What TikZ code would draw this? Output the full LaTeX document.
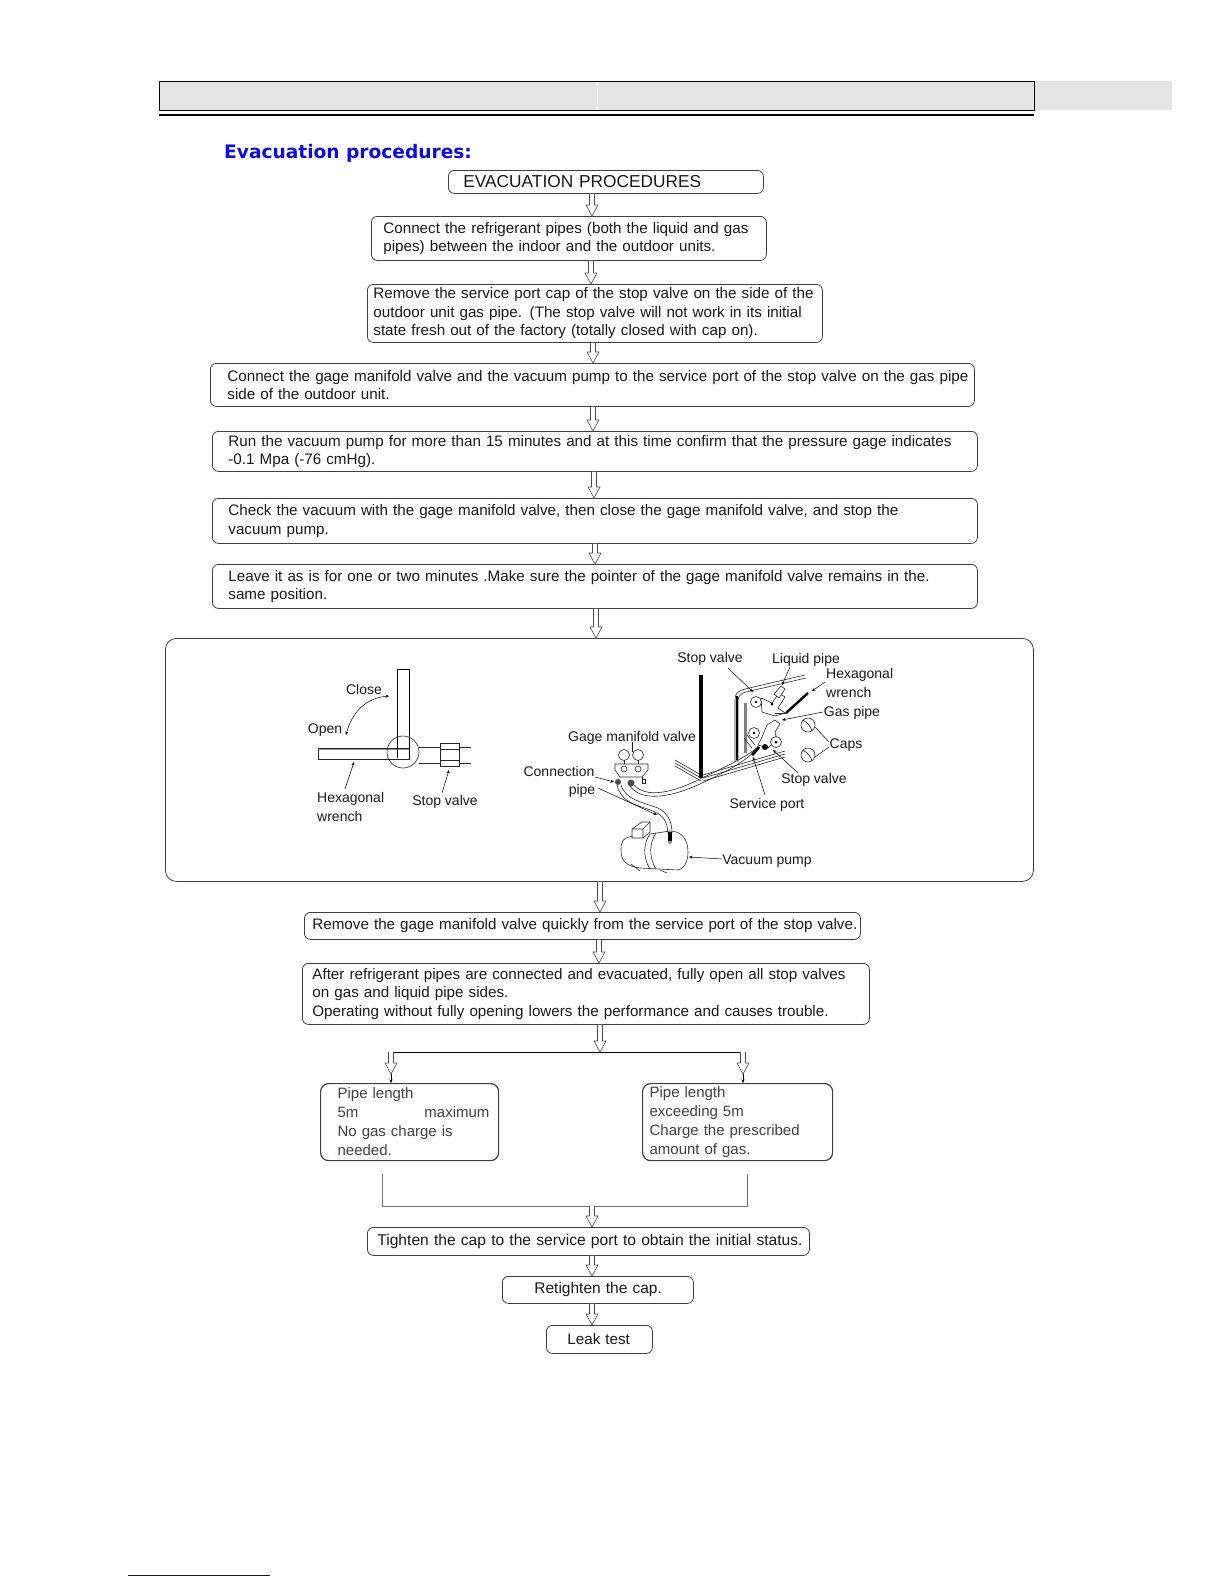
\documentclass[tikz,border=0pt]{standalone}
\usepackage{fontspec}
\setmainfont{Liberation Sans}
\newfontfamily\headfont{DejaVu Sans}
\usepackage{xcolor}
\usetikzlibrary{positioning,arrows.meta,calc}
\definecolor{headgray}{RGB}{229,229,229}

\begin{document}
\begin{tikzpicture}[
  x=1pt, y=-1pt,
  >=Stealth,
  stepbox/.style={draw=black!75, line width=0.8pt, rounded corners=6pt, anchor=north west, inner xsep=0pt, inner ysep=0pt, align=left, text=black!90, font=\fontsize{15.2}{18.4}\selectfont},
  pad/.style={execute at begin node={\leftskip=#1pt\relax}},
  lenbox/.style={stepbox, line width=1.2pt, rounded corners=8pt, font=\fontsize{15}{19}\selectfont, text=black!75},
  lbl/.style={inner sep=0pt, text=black!90, font=\fontsize{14}{19}\selectfont},
  hol/.style={draw=black!70, line width=0.6pt, fill=white, to path={let \p1=(\tikztostart), \p2=(\tikztotarget) in (\x1-2.5pt,\y1) -- (\x1-2.5pt,\y2+11pt) -- (\x1-6pt,\y2+11pt) -- (\x1,\y2) -- (\x1+6pt,\y2+11pt) -- (\x1+2.5pt,\y2+11pt) -- (\x1+2.5pt,\y1)}},
  lead/.style={->, line width=0.5pt, >={Stealth[length=3.5pt, width=3pt]}},
  thin1/.style={line width=0.6pt, black!85}
]
  \useasboundingbox (0,0) rectangle (1225,1585);
  % page head
  \fill[headgray] (159,81) rectangle (1172,110);
  \draw[white, line width=1pt] (597,81) -- (597,110);
  \draw[line width=0.9pt] (159,81) rectangle (1034,110);
  \draw[line width=1.4pt] (159,115) -- (1034,115);
  \node[anchor=west, inner sep=0pt, text={rgb,255:red,10;green,10;blue,235}, font=\headfont\bfseries\fontsize{18.6}{22}\selectfont] (head) at (224,153) {Evacuation procedures:};
  \draw[blue!85!black, line width=1pt] (128,1575) -- (270,1575);

  % flow boxes
  \node[stepbox, pad=15, text width=315pt, minimum height=23pt, font=\fontsize{17.3}{20}\selectfont] (title) at (448,170) {EVACUATION PROCEDURES};
  \node[stepbox, pad=12, text width=395pt, minimum height=44pt] (pipes) at (371,216) {Connect the refrigerant pipes (both the liquid and gas\\pipes) between the indoor and the outdoor units.};
  \node[stepbox, pad=6, text width=455pt, minimum height=58pt] (cap) at (367,284) {Remove the service port cap of the stop valve on the side of the\\outdoor unit gas pipe. (The stop valve will not work in its initial\\state fresh out of the factory (totally closed with cap on).};
  \node[stepbox, pad=17, text width=764pt, minimum height=43pt] (gage) at (210,363) {Connect the gage manifold valve and the vacuum pump to the service port of the stop valve on the gas pipe\\side of the outdoor unit.};
  \node[stepbox, pad=16, text width=765pt, minimum height=40pt] (run) at (212,431) {Run the vacuum pump for more than 15 minutes and at this time confirm that the pressure gage indicates\\-0.1 Mpa (-76 cmHg).};
  \node[stepbox, pad=16, text width=765pt, minimum height=45pt] (check) at (212,498) {Check the vacuum with the gage manifold valve, then close the gage manifold valve, and stop the\\vacuum pump.};
  \node[stepbox, pad=16, text width=765pt, minimum height=44pt] (leave) at (212,564) {Leave it as is for one or two minutes .Make sure the pointer of the gage manifold valve remains in the.\\same position.};
  \node[stepbox, rounded corners=11pt, text width=868pt, minimum height=243pt] (panel) at (165,638) {};
  \node[stepbox, pad=8, text width=556pt, minimum height=27pt] (quick) at (304,912) {Remove the gage manifold valve quickly from the service port of the stop valve.};
  \node[stepbox, pad=10, text width=567pt, minimum height=61pt] (open) at (302,963) {After refrigerant pipes are connected and evacuated, fully open all stop valves\\on gas and liquid pipe sides.\\Operating without fully opening lowers the performance and causes trouble.};
  \node[lenbox, pad=17, text width=178pt, minimum height=77pt] (short) at (320,1083) {Pipe length\\5m\hspace{66pt}maximum\\No gas charge is\\needed.};
  \node[lenbox, pad=7, text width=190pt, minimum height=77pt] (long) at (642,1083) {Pipe length\\exceeding 5m\\Charge the prescribed\\amount of gas.};
  \node[stepbox, pad=10, text width=442pt, minimum height=28pt, font=\fontsize{15.6}{18}\selectfont] (tight) at (367,1227) {Tighten the cap to the service port to obtain the initial status.};
  \node[stepbox, pad=32, text width=191pt, minimum height=27pt, font=\fontsize{15.5}{18}\selectfont] (reten) at (502,1276) {Retighten the cap.};
  \node[stepbox, pad=21, text width=106pt, minimum height=28pt] (leak) at (546,1325) {Leak test};

  % hollow connectors
  \foreach \a/\b/\cx in {title/pipes/592, pipes/cap/591, cap/gage/593, gage/run/593, run/check/594, check/leave/595, leave/panel/596, panel/quick/600, quick/open/599, tight/reten/592, reten/leak/592}
    \draw[hol] (\a.south -| \cx,0) to (\b.north -| \cx,0);

  % split and merge
  \coordinate (split) at (600,1052);
  \coordinate (splitl) at (391,1052);
  \coordinate (splitr) at (743,1052);
  \coordinate (tipl) at (391,1074);
  \coordinate (tipr) at (743,1074);
  \draw[line width=0.9pt] (splitl) -- (splitr);
  \draw[hol] (open.south -| split) to (split);
  \draw[hol] (splitl) to (tipl);
  \draw[hol] (splitr) to (tipr);
  \draw[lead] (tipl) -- (short.north -| tipl);
  \draw[lead] (tipr) -- (long.north -| tipr);
  \coordinate (ml) at (382,1174);
  \coordinate (mr) at (747,1174);
  \coordinate (mb) at (592,1206);
  \draw[thin1, black!55] (ml) |- (mb) -| (mr);
  \draw[hol] (mb) to (tight.north -| mb);

  % wrench sketch
  \draw[thin1, fill=white] (318,748) rectangle (409,759);
  \draw[black!45, line width=1pt] (318,749) -- (409,749);
  \draw[line width=1pt] (397,758) -- (397,669) -- (409,669) -- (409,759);
  \draw[thin1] (403,752) circle (16);
  \draw[thin1] (419,747) -- (440,747) (419,763) -- (440,763);
  \draw[thin1, line width=0.9pt] (440,743) rectangle (459,766);
  \draw[thin1] (440,749) -- (459,749) (440,760) -- (459,760);
  \draw[thin1] (459,747) -- (471,747) (459,763) -- (471,763);
  \draw[lead, <->] (346,735) .. controls (352,712) and (366,698) .. (389,696);
  \draw[lead] (345,789) -- (354,762);
  \draw[lead] (442,793) -- (449,770);
  \node[lbl] (close) at (364,689) {Close};
  \node[lbl] (openl) at (325,730) {Open};
  \node[lbl, align=left, anchor=north west] (hex) at (317,792) {Hexagonal\\wrench};
  \node[lbl] (stopl) at (445,802) {Stop valve};

  % unit sketch
  \draw[line width=3.6pt] (701,675) -- (701,778);
  \draw[thin1] (735,762) -- (735,700) .. controls (735,693) and (738,691) .. (745,689) -- (805,675);
  \draw[thin1] (738,762) -- (738,701) .. controls (738,696) and (741,693) .. (746,692) -- (806,678);
  \draw[line width=1.6pt] (737,696) -- (737,760);
  \draw[black!50, line width=3pt] (745,703) -- (745,753);
  \draw[thin1] (675,760) -- (701,775) (675,763) -- (701,778) (675,766) -- (701,781);
  \draw[thin1] (703,775) -- (785,751) (703,778) -- (785,754) (703,781) -- (785,757);
  % upper valve
  \draw[thin1, fill=white] (756,702) circle (5.5);
  \fill (756,702) circle (1.3);
  \draw[thin1, fill=white] (761,698) -- (772,703) -- (779,693) -- (785,697) -- (778,708) -- (785,713) -- (775,716) -- (762,712) -- cycle;
  \draw[thin1, fill=white] (774,694) -- (781,686) -- (785,689) -- (779,698) -- cycle;
  \fill (772,704) circle (1.5);
  \draw[thin1] (775,713) -- (786,713);
  \draw[line width=2.4pt] (786,713) -- (808,693);
  % lower valve
  \draw[thin1, fill=white] (762,737) -- (767,725) -- (775,720) -- (780,724) -- (775,732) -- (777,740) -- (768,748) -- (758,745) -- cycle;
  \draw[thin1, fill=white] (754,733) circle (5.5);
  \fill (754,733) circle (1.3);
  \draw[thin1, fill=white] (776,742) circle (5.5);
  \fill (776,742) circle (1.5);
  \draw[line width=3pt] (752,755) -- (759,747);
  \fill (765,747) circle (3);
  \draw[thin1] (747,735) -- (755,745) (744,738) -- (752,748);
  % caps
  \draw[thin1] (808,725) circle (7) (808,755) circle (7);
  \draw[thin1] (803,720) .. controls (808,723) and (811,727) .. (812,731) (803,750) .. controls (808,753) and (811,757) .. (812,761);
  \draw[thin1] (815,727) -- (829,742) (815,757) -- (829,747);
  % manifold
  \draw[thin1] (624,755) circle (5.5) (638,755) circle (5.5);
  \draw[thin1] (624,760) -- (624,764) (638,760) -- (638,764);
  \draw[thin1, fill=white] (615,764) -- (648,764) -- (648,770) -- (642,777) -- (620,777) -- (615,770) -- cycle;
  \draw[thin1] (624,769) circle (3) (638,769) circle (3);
  \fill[black!70] (618,782) circle (3) (631,783) circle (3.5);
  \draw[thin1] (642,777) -- (642,779) rectangle (645,783);
  % hoses
  \draw[thin1] (630,786) .. controls (640,800) and (665,800) .. (700,784) .. controls (725,772) and (740,765) .. (755,751);
  \draw[thin1] (634,785) .. controls (644,796) and (665,796) .. (698,780) .. controls (722,768) and (738,762) .. (757,748);
  \draw[thin1] (617,785) .. controls (622,805) and (640,805) .. (655,812) .. controls (664,816) and (667,822) .. (668,833);
  \draw[thin1] (621,785) .. controls (626,800) and (642,802) .. (658,808) .. controls (668,813) and (672,822) .. (672,833);
  \draw[line width=4pt] (670,832) -- (670,841);
  % pump
  \draw[thin1, fill=white] (632,829) -- (642,822) -- (650,822) -- (650,832) -- (643,838) -- (632,838) -- cycle;
  \draw[thin1] (632,829) -- (643,829) -- (650,822) (643,829) -- (643,838);
  \draw[thin1] (633,836) .. controls (622,838) and (621,842) .. (621,850) .. controls (621,860) and (625,866) .. (640,868) -- (678,870);
  \draw[thin1] (650,834) -- (670,831) .. controls (682,831) and (688,840) .. (688,852) .. controls (688,863) and (683,869) .. (678,870);
  \draw[thin1] (650,834) .. controls (644,842) and (642,856) .. (650,869);
  \draw[thin1] (656,833) .. controls (650,842) and (648,856) .. (656,869);
  \draw[thin1] (631,864) -- (640,871) (660,870) -- (667,873);
  \draw[thin1] (670,842) circle (1.5);
  % leaders
  \draw[lead] (728,668) -- (753,692);
  \draw[lead] (790,667) -- (782,685);
  \draw[lead] (825,682) -- (812,691);
  \draw[lead] (823,712) -- (782,720);
  \draw[lead] (798,773) -- (773,750);
  \draw[lead] (765,795) -- (753,757);
  \draw[thin1, line width=0.5pt] (632,742) -- (632,752);
  \draw[lead] (595,777) -- (614,782);
  \draw[lead] (598,788) -- (657,815);
  \draw[lead] (722,859) -- (689,857);
  \node[lbl] (stopu) at (710,659) {Stop valve};
  \node[lbl] (liquid) at (806,660) {Liquid pipe};
  \node[lbl, align=left, anchor=north west] (hexr) at (826,668) {Hexagonal\\wrench};
  \node[lbl] (gas) at (852,713) {Gas pipe};
  \node[lbl] (caps) at (846,745) {Caps};
  \node[lbl] (stopd) at (814,780) {Stop valve};
  \node[lbl] (port) at (767,805) {Service port};
  \node[lbl] (mani) at (632,738) {Gage manifold valve};
  \node[lbl] (conn) at (559,771) {Connection};
  \node[lbl] (connp) at (582,791) {pipe};
  \node[lbl] (vac) at (767,861) {Vacuum pump};
\end{tikzpicture}
\end{document}
